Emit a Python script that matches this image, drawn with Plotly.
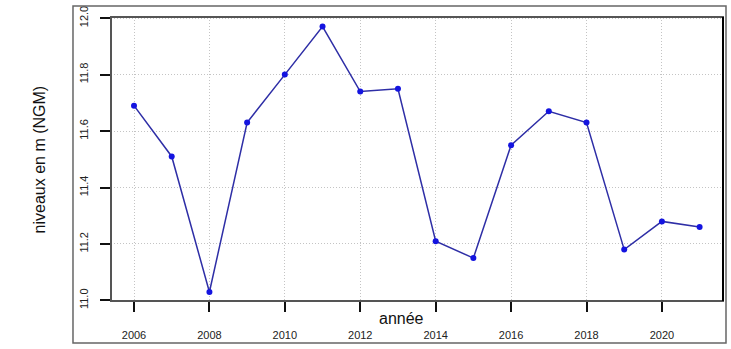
import plotly.graph_objects as go

years = [2006, 2007, 2008, 2009, 2010, 2011, 2012, 2013, 2014, 2015, 2016, 2017, 2018, 2019, 2020, 2021]
levels = [11.69, 11.51, 11.03, 11.63, 11.80, 11.97, 11.74, 11.75, 11.21, 11.15, 11.55, 11.67, 11.63, 11.18, 11.28, 11.26]
x_ticks = [2006, 2008, 2010, 2012, 2014, 2016, 2018, 2020]
y_ticks = [11.0, 11.2, 11.4, 11.6, 11.8, 12.0]

fig = go.Figure()
fig.add_trace(go.Scatter(
    x=years, y=levels, mode="lines+markers",
    line=dict(color="#2e2ea6", width=1.5),
    marker=dict(color="#1414e0", size=6),
    showlegend=False,
))

font = "Liberation Sans, Arial, sans-serif"
fig.update_layout(
    width=731, height=349,
    margin=dict(l=111, r=8, t=17, b=48),
    paper_bgcolor="white", plot_bgcolor="white",
    font=dict(family=font, color="#222", size=11),
    xaxis=dict(
        range=[2005.39, 2021.62], tickvals=x_ticks, ticktext=[str(v) for v in x_ticks],
        showgrid=True, gridcolor="#c4c4c4", griddash="1px,2px", gridwidth=1,
        ticks="outside", ticklen=10, tickwidth=2, tickcolor="#111",
        ticklabelstandoff=14, zeroline=False, showline=False, automargin=False,
        tickfont=dict(size=11, family=font, color="#222"),
    ),
    yaxis=dict(
        range=[10.998, 12.004], tickvals=y_ticks, ticktext=[f"{v:.1f}" for v in y_ticks],
        showgrid=True, gridcolor="#c4c4c4", griddash="1px,2px", gridwidth=1,
        ticks="outside", ticklen=10, tickwidth=2, tickcolor="#111",
        tickangle=-90, ticklabelstandoff=8, zeroline=False, showline=False, automargin=False,
        tickfont=dict(size=11, family=font, color="#222"),
    ),
    shapes=[
        dict(type="rect", xref="paper", yref="paper", x0=0, x1=1, y0=0, y1=1,
             line=dict(color="#555", width=2), layer="above"),
        dict(type="line", xref="paper", yref="paper", x0=1, x1=1, y0=0, y1=1,
             line=dict(color="#000", width=2), layer="above"),
        dict(type="rect", xref="paper", yref="paper", x0=-0.0621, x1=1.0049, y0=-0.148, y1=1.0387,
             line=dict(color="#666", width=1.5), layer="above"),
    ],
    annotations=[
        dict(text="année", xref="paper", yref="paper", x=0.475, y=-0.06, showarrow=False,
             font=dict(size=16, family=font, color="#111"), xanchor="center", yanchor="middle"),
        dict(text="niveaux en m (NGM)", xref="paper", yref="paper", x=-0.117, y=0.5, showarrow=False,
             textangle=-90, font=dict(size=16, family=font, color="#111"),
             xanchor="center", yanchor="middle"),
    ],
)

fig.write_html("out.html", config={"displayModeBar": False},
               post_script="document.body.style.margin='0';")
